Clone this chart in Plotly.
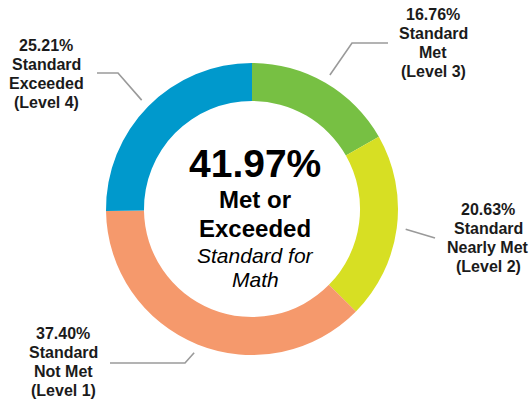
import math
import plotly.graph_objects as go

# ---- data ----
categories = ["Standard Met (Level 3)", "Standard Nearly Met (Level 2)",
              "Standard Not Met (Level 1)", "Standard Exceeded (Level 4)"]
label_lines = [["Standard", "Met", "(Level 3)"],
               ["Standard", "Nearly Met", "(Level 2)"],
               ["Standard", "Not Met", "(Level 1)"],
               ["Standard", "Exceeded", "(Level 4)"]]
values = [16.76, 20.63, 37.40, 25.21]
colors = ["#77C043", "#D7DF23", "#F5996C", "#0099CC"]
center_title = ["Met or", "Exceeded"]
center_sub = ["Standard for", "Math"]

W, H = 529, 402
CX, CY, R = 252, 209, 146
FONT = "Liberation Sans, Arial, Helvetica, sans-serif"
TXT = "#1b1b1b"
LS = 16          # label font size
LH = 18.9        # label line spacing

def px(x):
    return x / W

def py(y):
    return 1 - y / H

fig = go.Figure(go.Pie(
    labels=categories, values=values, sort=False, direction="clockwise",
    rotation=0, hole=0.74, marker=dict(colors=colors, line=dict(width=0)),
    textinfo="none", hoverinfo="label+value", showlegend=False,
    domain=dict(x=[px(CX - R), px(CX + R)], y=[py(CY + R), py(CY - R)]),
))

# label placement (x centre, first baseline) and leader-line elbows/ends
label_pos = [(433, 20), (488, 215), (63, 339), (46, 51)]
leader_pts = [[(352, 43), (388, 43)],
              [(435, 238)],
              [(185, 363), (110, 363)],
              [(118, 73), (97, 73)]]

total = sum(values)
cum = 0.0
for v, lines, (lx, ly), pts in zip(values, label_lines, label_pos, leader_pts):
    mid = (cum + v / 2) / total * 2 * math.pi
    cum += v
    r0 = 155
    sx = CX + r0 * math.sin(mid)
    sy = CY - r0 * math.cos(mid)
    path_pts = [(sx, sy)] + pts
    d = "M " + " L ".join(f"{px(x)},{py(y)}" for x, y in path_pts)
    fig.add_shape(type="path", path=d, xref="paper", yref="paper",
                  line=dict(color="#9a9a9a", width=1.6))
    for i, t in enumerate([f"{v:.2f}%"] + lines):
        base = ly + i * LH
        fig.add_annotation(
            x=px(lx), y=py(base - 0.35 * LS), xref="paper", yref="paper",
            showarrow=False, xanchor="center", yanchor="middle",
            text=f"<b>{t}</b>", font=dict(family=FONT, size=LS, color=TXT),
        )

met_or_exceeded = values[0] + values[3]
center_items = [
    (f"<b>{met_or_exceeded:.2f}%</b>", 39, 164),
    (f"<b>{center_title[0]}</b>", 24, 199),
    (f"<b>{center_title[1]}</b>", 24, 228),
    (f"<i>{center_sub[0]}</i>", 21, 255),
    (f"<i>{center_sub[1]}</i>", 21, 279),
]
for text, size, y in center_items:
    fig.add_annotation(x=px(255), y=py(y), xref="paper", yref="paper",
                       showarrow=False, xanchor="center", yanchor="middle",
                       text=text, font=dict(family=FONT, size=size, color="#000000"))

fig.update_layout(width=W, height=H, margin=dict(l=0, r=0, t=0, b=0),
                  paper_bgcolor="white", plot_bgcolor="white")
fig.write_html("out.html")
